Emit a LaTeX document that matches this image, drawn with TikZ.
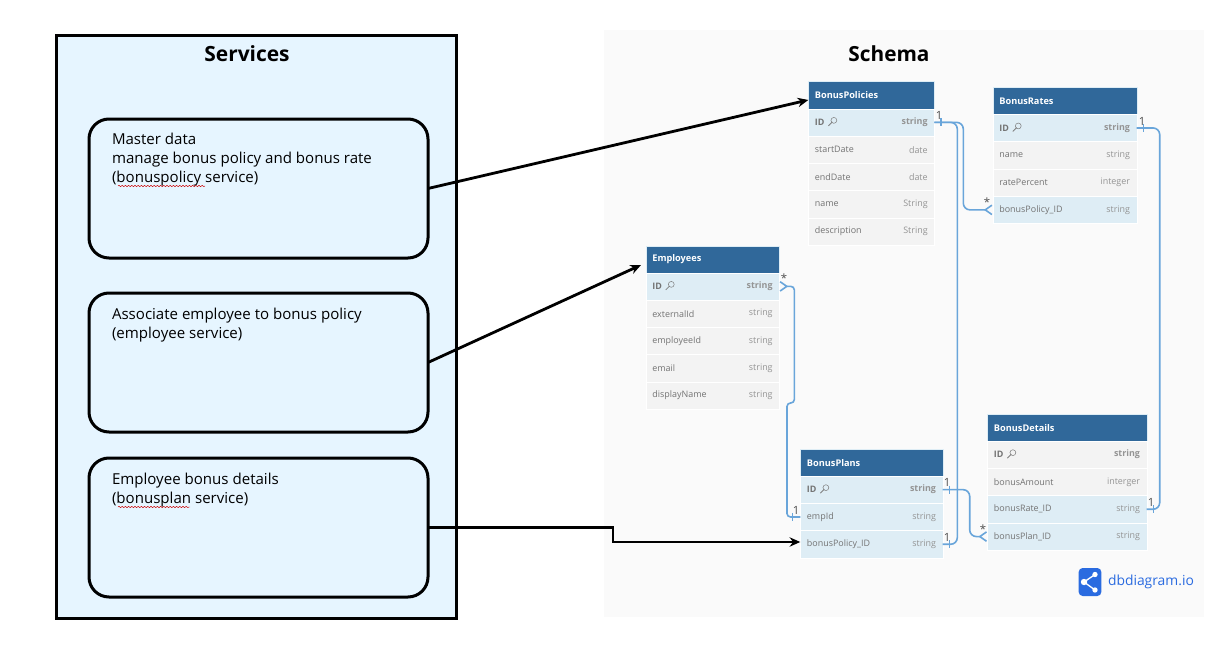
\documentclass[tikz,border=0pt]{standalone}
\usepackage{fontspec}
\setmainfont{Open Sans}
\usepackage{xcolor}
\usetikzlibrary{arrows.meta, decorations.pathmorphing}

\definecolor{svcfill}{HTML}{E6F5FF}
\definecolor{panelgray}{HTML}{FAFAFA}
\definecolor{headblue}{HTML}{30689A}
\definecolor{rowblue}{HTML}{DEEDF5}
\definecolor{rowgray}{HTML}{F3F3F3}
\definecolor{reltone}{HTML}{69A5DA}
\definecolor{logoblue}{HTML}{2A6BE0}

\tikzset{
    every node/.append style={outer sep=0pt},
    svcbox/.style={draw, line width=2.25pt, rounded corners=15pt, minimum width=254.25pt, minimum height=104.25pt, anchor=north west, fill=svcfill},
    svctext/.style={anchor=north west, align=left, font=\fontsize{11.3}{14.2}\selectfont, inner sep=0pt},
    headbox/.style={fill=headblue, draw=rowblue, line width=.3pt, minimum height=20.4pt, anchor=north west, inner sep=0pt},
    headtext/.style={anchor=west, text=white, font=\fontsize{6.9}{9}\selectfont\bfseries, inner sep=0pt},
    rowplain/.style={fill=rowgray, draw=white, line width=.2pt, minimum height=20.5pt, anchor=north west, inner sep=0pt},
    rowkey/.style={fill=rowblue, draw=white, line width=.2pt, minimum height=20.5pt, anchor=north west, inner sep=0pt},
    fieldname/.style={anchor=west, text=black!55, font=\fontsize{6.7}{9}\selectfont, inner sep=0pt},
    fieldtype/.style={anchor=east, text=black!42, font=\fontsize{6.7}{9}\selectfont, inner sep=0pt},
    reltag/.style={text=black!70, font=\fontsize{8.5}{9}\selectfont, inner sep=0pt},
    relline/.style={draw=reltone, line width=1.2pt, rounded corners=5pt},
    crowtip/.style={-{Straight Barb[reversed, length=5pt, width=7pt]}},
    svcarrow/.style={line width=2.1pt, -{Stealth[length=8pt, width=7pt]}},
    keyicon/.pic={
        \draw[black!50, line width=.4pt] (2,-2) circle (2.2pt);
        \draw[black!50, line width=.6pt] (0.4,-0.4) -- (-3.5,3.5);
    },
}

% one table row: prefix, index, x, top y, width, style, field, type
\newcommand{\dbrow}[8]{
    \node[#6, minimum width=#5*0.75pt] (#1#2) at (#3,#4+27.3*#2) {};
    \node[fieldname] (#1#2n) at ([xshift=5pt]#1#2.west) {#7};
    \node[fieldtype] (#1#2t) at ([xshift=-5pt]#1#2.east) {#8};
}

\begin{document}
\begin{tikzpicture}[x=0.75pt, y=-0.75pt]
    \useasboundingbox (0,0) rectangle (1228,660);

    % left side
    \node[draw, line width=2.25pt, fill=svcfill, minimum width=300pt, minimum height=436.5pt, anchor=north west] (services) at (56,36) {};
    \node[font=\fontsize{15.7}{18}\selectfont\bfseries] (servicestitle) at (247,54) {Services};
    \foreach \i/\y in {1/119,2/293,3/458} {
        \node[svcbox] (box\i) at (89,\y) {};
    }
    \node[svctext] (box1text) at (112,133.5) {Master data\\manage bonus policy and bonus rate\\(bonuspolicy service)};
    \node[svctext] (box2text) at (112,308) {Associate employee to bonus policy\\(employee service)};
    \node[svctext] (box3text) at (112,473) {Employee bonus details\\(bonusplan service)};
    \draw[red!80!black, line width=.35pt, decorate, decoration={snake, amplitude=.5pt, segment length=2.4pt}] (118,186) -- (205,186);
    \draw[red!80!black, line width=.35pt, decorate, decoration={snake, amplitude=.5pt, segment length=2.4pt}] (118,507) -- (190,507);

    % right side
    \node[fill=panelgray, minimum width=450pt, minimum height=440.25pt, anchor=north west] (schema) at (604,30) {};
    \node[font=\fontsize{15.6}{18}\selectfont\bfseries] (schematitle) at (889,54) {Schema};

    % tables
    \foreach \p/\x/\y/\w/\t in {pol/808.3/81.7/126/BonusPolicies, rate/992.7/87.3/144/BonusRates, emp/645.7/245.7/133.6/Employees, plan/800.3/449/142.4/BonusPlans, det/987.3/414/159.4/BonusDetails} {
        \node[headbox, minimum width=\w*0.75pt] (\p head) at (\x,\y) {};
        \node[headtext] (\p title) at ([xshift=5pt]\p head.west) {\t};
    }
    \foreach \i/\s/\f/\t in {0/rowkey/\textbf{ID}/\textbf{string},1/rowplain/startDate/date,2/rowplain/endDate/date,3/rowplain/name/String,4/rowplain/description/String} {
        \dbrow{pol}{\i}{808.3}{108.7}{126}{\s}{\f}{\t}
    }
    \foreach \i/\s/\f/\t in {0/rowkey/\textbf{ID}/\textbf{string},1/rowplain/name/string,2/rowplain/ratePercent/integer,3/rowkey/bonusPolicy\_ID/string} {
        \dbrow{rate}{\i}{992.7}{114.3}{144}{\s}{\f}{\t}
    }
    \foreach \i/\s/\f/\t in {0/rowkey/\textbf{ID}/\textbf{string},1/rowplain/externalId/string,2/rowplain/employeeId/string,3/rowplain/email/string,4/rowplain/displayName/string} {
        \dbrow{emp}{\i}{645.7}{272.7}{133.6}{\s}{\f}{\t}
    }
    \foreach \i/\s/\f/\t in {0/rowkey/\textbf{ID}/\textbf{string},1/rowkey/empId/string,2/rowkey/bonusPolicy\_ID/string} {
        \dbrow{plan}{\i}{800.3}{476}{142.4}{\s}{\f}{\t}
    }
    \foreach \i/\s/\f/\t in {0/rowplain/\textbf{ID}/\textbf{string},1/rowplain/bonusAmount/interger,2/rowkey/bonusRate\_ID/string,3/rowkey/bonusPlan\_ID/string} {
        \dbrow{det}{\i}{987.3}{441}{159.4}{\s}{\f}{\t}
    }
    \foreach \p in {pol,rate,emp,plan,det} {
        \pic at ([xshift=5.5pt]\p0n.east) {keyicon};
    }

    % relations
    \coordinate (jog) at (787,403);
    \draw[relline] (pol0.east) -- ++(23,0) |- (plan2.east);
    \draw[relline, crowtip] (pol0.east) -- ++(29,0) |- (rate3.west);
    \draw[relline] (rate0.east) -- ++(23,0) |- (det2.east);
    \draw[relline, crowtip] (plan0.east) -- ++(27,0) |- (det3.west);
    \draw[relline, rounded corners=2.6pt, {Straight Barb[reversed, length=5pt, width=7pt]}-] (emp0.east) -- ++(15,0) |- (jog) |- (plan1.west);
    \foreach \c/\s in {pol0.east/5, rate0.east/5, plan0.east/5, plan2.east/5, det2.east/5, plan1.west/-6} {
        \draw[draw=reltone, line width=.9pt] ([xshift=\s pt, yshift=3pt]\c) -- ([xshift=\s pt, yshift=-3pt]\c);
    }
    \foreach \n/\x/\y/\t in {a/939/115/1, b/1142/121/1, c/987/202/*, d/784/278/*, e/796/510/1, f/947/482/1, g/947/537/1, h/983/529/*, j/1151/502/1} {
        \node[reltag] (tag\n) at (\x,\y) {\t};
    }

    % service arrows
    \coordinate (elbow) at (613,542);
    \coordinate (empin) at (641,265);
    \draw[svcarrow] (box1.east) -- ([yshift=-3.5pt]polhead.west);
    \draw[svcarrow] (box2.east) -- (empin);
    \draw[svcarrow, line width=1.9pt] (box3.east) -| (elbow) -- ([yshift=1.7pt]plan2.west);

    % logo
    \node[fill=logoblue, rounded corners=3pt, minimum width=17pt, minimum height=21pt, inner sep=0pt] (logobox) at (1090,582) {};
    \draw[white, line width=1pt] (1095,574.5) -- (1084,582) -- (1095,590);
    \fill[white] (1095,574.5) circle (2pt) (1084,582) circle (2.4pt) (1095,590) circle (2pt);
    \node[anchor=west, text=logoblue, font=\fontsize{10.4}{15}\selectfont, inner sep=0pt] (logotext) at (1108,582) {dbdiagram.io};
\end{tikzpicture}
\end{document}
